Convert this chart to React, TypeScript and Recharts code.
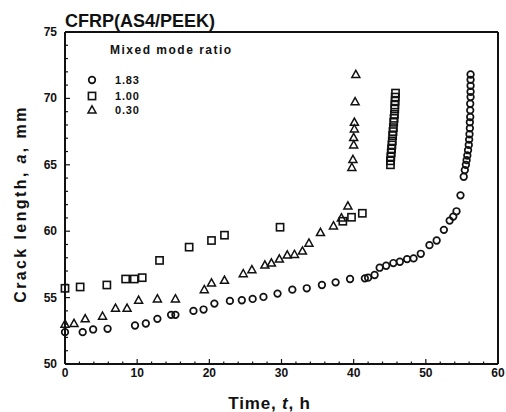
import React from 'react';
import { ScatterChart, Scatter, XAxis, YAxis, ReferenceLine, Legend, Label } from 'recharts';

const FONT = '"Liberation Sans", Arial, Helvetica, sans-serif';
const INK = '#111';

// mixed mode ratio 1.83 (circles)
const timeR183 = [
  0, 2.45, 3.9, 5.9, 9.7, 11.2, 12.8, 14.7, 15.3, 17.8,
  19.2, 20.7, 22.85, 24.5, 26.0, 27.5, 29.45, 31.5, 33.5, 35.6,
  37.5, 39.5, 41.55, 42.0, 42.9, 43.6, 44.5, 45.5, 46.4, 47.4,
  48.3, 49.3, 50.5, 51.5, 52.5, 53.3, 53.8, 54.25, 54.8,
  55.25, 55.4, 55.55, 55.65, 55.75, 55.85, 55.95, 56.0, 56.05, 56.1,
  56.1, 56.15, 56.15, 56.15, 56.2, 56.2, 56.2, 56.2, 56.2,
];
const crackR183 = [
  52.4, 52.4, 52.6, 52.65, 52.9, 53.05, 53.4, 53.7, 53.7, 54.0,
  54.1, 54.55, 54.75, 54.8, 54.9, 55.05, 55.3, 55.6, 55.7, 55.95,
  56.15, 56.4, 56.45, 56.5, 56.7, 57.25, 57.4, 57.6, 57.7, 57.9,
  57.95, 58.3, 58.95, 59.3, 60.1, 60.8, 61.1, 61.5, 62.7,
  64.1, 64.6, 65.0, 65.35, 65.7, 66.1, 66.5, 66.9, 67.3, 67.75,
  68.2, 68.6, 69.1, 69.6, 70.1, 70.5, 70.95, 71.4, 71.8,
];

// mixed mode ratio 1.00 (squares)
const timeR100 = [
  0, 2.1, 5.8, 8.4, 9.6, 10.7, 13.1, 17.2, 20.3, 22.1, 29.8, 38.5, 39.7, 41.2,
  45.1, 45.1, 45.15, 45.2, 45.25, 45.3, 45.35, 45.4, 45.45, 45.5,
  45.55, 45.6, 45.65, 45.7, 45.7, 45.75, 45.75, 45.8,
];
const crackR100 = [
  55.7, 55.8, 55.95, 56.4, 56.4, 56.5, 57.8, 58.8, 59.3, 59.7, 60.3, 60.75, 61.05, 61.35,
  65.0, 65.3, 65.6, 65.9, 66.2, 66.5, 66.8, 67.2, 67.5, 67.8,
  68.2, 68.5, 68.8, 69.2, 69.5, 69.8, 70.1, 70.4,
];

// mixed mode ratio 0.30 (triangles)
const timeR030 = [
  0, 1.25, 2.8, 5.2, 7.0, 8.6, 10.2, 12.8, 15.3, 19.3,
  20.3, 22.1, 24.7, 25.9, 27.7, 28.6, 29.7, 30.8, 31.8, 32.9,
  33.8, 35.4, 37.2, 38.3, 39.2, 39.75, 39.9, 40.0, 40.0, 40.1,
  40.1, 40.2, 40.3,
];
const crackR030 = [
  53.0, 53.05, 53.4, 53.6, 54.2, 54.2, 54.8, 54.9, 54.9, 55.6,
  56.1, 56.3, 56.8, 57.1, 57.45, 57.6, 57.9, 58.2, 58.25, 58.5,
  59.1, 59.9, 60.4, 61.0, 61.9, 64.8, 65.4, 66.5, 67.05, 67.7,
  68.2, 69.75, 71.8,
];

const ratioLabels = ['1.83', '1.00', '0.30'];
const xTicks = [0, 2, 4, 6, 8, 10, 12, 14, 16, 18, 20, 22, 24, 26, 28, 30, 32, 34, 36, 38, 40, 42, 44, 46, 48, 50, 52, 54, 56, 58, 60];
const yTicks = [50, 51, 52, 53, 54, 55, 56, 57, 58, 59, 60, 61, 62, 63, 64, 65, 66, 67, 68, 69, 70, 71, 72, 73, 74, 75];

const toPoints = (t: number[], a: number[]) => t.map((v, i) => ({ t: v, a: a[i] }));

const X_MARGIN = 4;
const Y_MARGIN = 8;

const CircleMark = (p: any) => (
  <circle cx={p.cx} cy={p.cy} r={3.3} fill="none" stroke={INK} strokeWidth={1.7} />
);
const SquareMark = (p: any) => (
  <rect x={p.cx - 3.6} y={p.cy - 3.6} width={7.2} height={7.2} fill="none" stroke={INK} strokeWidth={1.6} />
);
const TriangleMark = (p: any) => (
  <path
    d={`M${p.cx},${p.cy - 4.2}L${p.cx + 4},${p.cy + 3}L${p.cx - 4},${p.cy + 3}Z`}
    fill="none"
    stroke={INK}
    strokeWidth={1.5}
  />
);

const XTick = (props: any) => {
  const { x, y, payload } = props;
  const axisY = y - X_MARGIN;
  const major = payload.value % 10 === 0;
  return (
    <g>
      <line x1={x} x2={x} y1={axisY} y2={axisY - (major ? 5 : 2.5)} stroke={INK} strokeWidth={1.2} />
      {major && (
        <text x={x} y={y + 9} textAnchor="middle" fontFamily={FONT} fontWeight={700} fontSize={12} fill={INK}>
          {payload.value}
        </text>
      )}
    </g>
  );
};

const YTick = (props: any) => {
  const { x, y, payload } = props;
  const axisX = x + Y_MARGIN;
  const major = payload.value % 5 === 0;
  return (
    <g>
      <line x1={axisX} x2={axisX + (major ? 5 : 3)} y1={y} y2={y} stroke={INK} strokeWidth={1.2} />
      {major && (
        <text x={x} y={y + 4} textAnchor="end" fontFamily={FONT} fontWeight={700} fontSize={12} fill={INK}>
          {payload.value}
        </text>
      )}
    </g>
  );
};

const XTitle = (props: any) => {
  const vb = props.viewBox;
  return (
    <text x={vb.x + vb.width / 2 - 12} y={409} textAnchor="middle" fontFamily={FONT} fontWeight={700} fontSize={17} letterSpacing={0.8} fill={INK}>
      Time, <tspan fontStyle="italic">t</tspan>, h
    </text>
  );
};

const YTitle = () => (
  <text
    x={26}
    y={204}
    transform="rotate(-90, 26, 204)"
    textAnchor="middle"
    fontFamily={FONT}
    fontWeight={700}
    fontSize={16}
    letterSpacing={2.4}
    fill={INK}
  >
    Crack length, <tspan fontStyle="italic">a</tspan>, mm
  </text>
);

const legendMarks = [
  (cx: number, cy: number) => <circle cx={cx} cy={cy} r={3.3} fill="none" stroke={INK} strokeWidth={1.7} />,
  (cx: number, cy: number) => <rect x={cx - 3.6} y={cy - 3.6} width={7.2} height={7.2} fill="none" stroke={INK} strokeWidth={1.6} />,
  (cx: number, cy: number) => (
    <path d={`M${cx},${cy - 4.2}L${cx + 4},${cy + 3}L${cx - 4},${cy + 3}Z`} fill="none" stroke={INK} strokeWidth={1.5} />
  ),
];
const legendRowY = [40, 56, 70];

const LegendBox = (props: any) => {
  const entries = [...(props.payload || [])].sort(
    (p: any, q: any) => ratioLabels.indexOf(p.value) - ratioLabels.indexOf(q.value)
  );
  return (
    <svg width={170} height={80} style={{ display: 'block' }}>
      <text x={26} y={14} fontFamily={FONT} fontWeight={700} fontSize={12} letterSpacing={1.5} fill={INK}>
        Mixed mode ratio
      </text>
      {entries.map((e: any) => {
        const i = ratioLabels.indexOf(e.value);
        return (
          <g key={e.value}>
            {legendMarks[i](8, legendRowY[i])}
            <text x={31} y={legendRowY[i] + 4} fontFamily={FONT} fontWeight={700} fontSize={11} letterSpacing={0.8} fill={INK}>
              {e.value}
            </text>
          </g>
        );
      })}
    </svg>
  );
};

export default function App() {
  return (
    <div style={{ position: 'absolute', left: 0, top: 0, width: 506, height: 412, background: '#fff' }}>
      <div
        style={{
          position: 'absolute',
          left: 65,
          top: 12,
          fontFamily: FONT,
          fontWeight: 700,
          fontSize: 18,
          lineHeight: '18px',
          color: INK,
          zIndex: 2,
        }}
      >
        CFRP(AS4/PEEK)
      </div>
      <ScatterChart width={506} height={412} margin={{ top: 32, right: 8, bottom: 0, left: 0 }}>
        <XAxis
          dataKey="t"
          type="number"
          domain={[0, 60]}
          ticks={xTicks}
          interval={0}
          height={48}
          axisLine={{ stroke: INK, strokeWidth: 2 }}
          tickLine={false}
          tickSize={0}
          tickMargin={X_MARGIN}
          tick={<XTick />}
        >
          <Label content={<XTitle />} />
        </XAxis>
        <YAxis
          dataKey="a"
          type="number"
          domain={[50, 75]}
          ticks={yTicks}
          interval={0}
          width={65}
          axisLine={{ stroke: INK, strokeWidth: 2 }}
          tickLine={false}
          tickSize={0}
          tickMargin={Y_MARGIN}
          tick={<YTick />}
        >
          <Label content={<YTitle />} />
        </YAxis>
        <ReferenceLine y={75} stroke={INK} strokeWidth={2} />
        <ReferenceLine x={60} stroke={INK} strokeWidth={2} />
        <Legend
          layout="vertical"
          verticalAlign="middle"
          align="center"
          content={<LegendBox />}
          wrapperStyle={{ left: 84, top: 40, width: 170, height: 80 }}
        />
        <Scatter name={ratioLabels[0]} data={toPoints(timeR183, crackR183)} shape={CircleMark} isAnimationActive={false} />
        <Scatter name={ratioLabels[1]} data={toPoints(timeR100, crackR100)} shape={SquareMark} isAnimationActive={false} />
        <Scatter name={ratioLabels[2]} data={toPoints(timeR030, crackR030)} shape={TriangleMark} isAnimationActive={false} />
      </ScatterChart>
    </div>
  );
}
